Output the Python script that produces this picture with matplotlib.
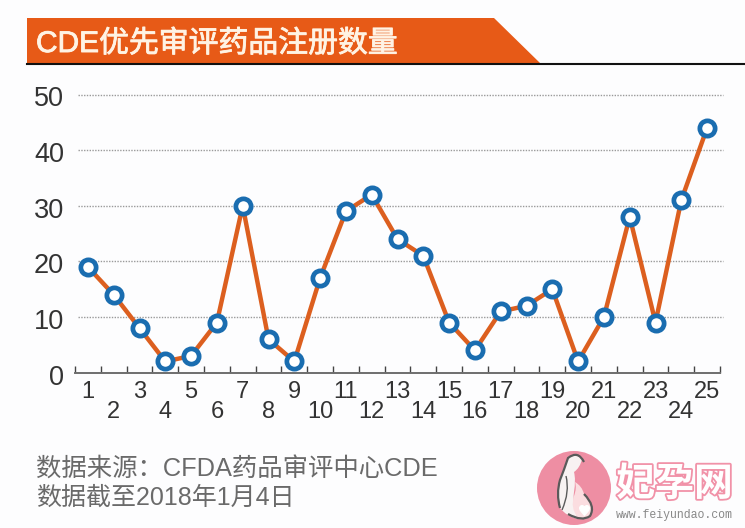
import matplotlib
matplotlib.use("Agg")
import matplotlib.pyplot as plt
import matplotlib.patheffects as pe
from matplotlib.patches import Polygon, Circle, PathPatch
from matplotlib.path import Path
from matplotlib.lines import Line2D
from matplotlib.transforms import ScaledTranslation

plt.rcParams['font.family'] = ['Liberation Sans', 'Noto Sans CJK SC', 'DejaVu Sans']

periods = list(range(1, 26))
counts = [19, 14, 8, 2, 3, 9, 30, 6, 2, 17, 29, 32, 24, 21, 9, 4, 11, 12, 15, 2, 10, 28, 9, 31, 44]
y_ticks = [0, 10, 20, 30, 40, 50]
title = 'CDE优先审评药品注册数量'
source_lines = ['数据来源：CFDA药品审评中心CDE', '数据截至2018年1月4日']

W, H = 745, 528
BG = '#fdfdfe'
fig = plt.figure(figsize=(W / 100, H / 100), dpi=100, facecolor=BG)

def fx(x): return x / W
def fy(y): return 1 - y / H

ov = fig.add_axes([0, 0, 1, 1], zorder=5)
ov.set_xlim(0, W); ov.set_ylim(H, 0); ov.axis('off'); ov.patch.set_alpha(0)

ax = fig.add_axes([fx(75), fy(372.6), 645 / W, (372.6 - 94.5) / H], zorder=2)
ax.patch.set_alpha(0)
ax.set_xlim(0.5, 25.5)
ax.set_ylim(0, 50)
for s in ['top', 'right', 'left']:
    ax.spines[s].set_visible(False)
ax.spines['bottom'].set_color('#6e6e6e')
ax.spines['bottom'].set_linewidth(1.4)

ax.set_yticks(y_ticks)
ax.tick_params(axis='y', length=0, pad=8, labelsize=19.5, labelcolor='#333333')
shift = ScaledTranslation(0, -2 / 100, fig.dpi_scale_trans)
for lab in ax.get_yticklabels():
    lab.set_transform(lab.get_transform() + shift)
for v in y_ticks[1:]:
    ax.axhline(v, xmin=3 / 645, xmax=648 / 645, color='#9a9a9a', lw=1.0, ls=(0, (1, 1)),
               zorder=1, clip_on=False)

ax.set_xticks([p - 0.5 for p in periods] + [25.5])
ax.set_xticklabels([])
ax.tick_params(axis='x', length=5.4, width=1.0, direction='in', color='#444444')

for p in periods:
    ypx = 392 if p % 2 else 412
    ov.text(75 + (p - 0.5) * 25.8, ypx, str(p), ha='center', va='center',
            fontsize=17, color='#333333')

ax.plot(periods, counts, color='#dc5f1f', lw=3.2, zorder=3, clip_on=False)
ax.plot(periods, counts, ls='none', marker='o', ms=11, mfc='#ffffff', mec='#1a6db0', mew=3.4,
        zorder=4, clip_on=False)

# header banner
ov.add_patch(Polygon([(27, 18), (494, 18), (540, 63), (27, 63)], closed=True, fc='#e75a17', ec='none'))
ov.add_line(Line2D([27, 745], [64, 64], color='#111111', lw=1.5))
ov.text(36, 44, title, ha='left', va='center', fontsize=21.5, color='#fff3e4',
        path_effects=[pe.withStroke(linewidth=0.6, foreground='#fff3e4')])

# source note
ov.text(36, 470, source_lines[0], ha='left', va='center', fontsize=18.3, color='#6a6a6a')
ov.text(36, 498, source_lines[1], ha='left', va='center', fontsize=18, color='#6a6a6a')

# watermark logo
def smooth(pts):
    codes = [Path.MOVETO] + [Path.CURVE3] * (len(pts) - 1)
    if len(pts) % 2 == 0:
        codes[-1] = Path.LINETO
    return Path(pts, codes)

ov.add_patch(Circle((574, 488), 37, fc='#ee8ea3', ec='none'))
back = [(582, 459), (572, 450), (566, 462), (563, 472), (560, 481), (557, 492), (560, 508),
        (566, 516), (578, 519), (572, 505), (574, 492), (576, 480), (574, 472), (580, 468), (582, 459)]
ov.add_patch(PathPatch(smooth(back), fc='#f8f2f2', ec='none'))
belly = [(575, 482), (582, 486), (584, 494), (594, 504), (592, 514), (586, 520), (578, 518),
         (570, 508), (574, 496), (577, 488), (575, 482)]
ov.add_patch(PathPatch(smooth(belly), fc='#fbdde0', ec='none'))
hair_line = [(584, 462), (578, 450), (568, 458), (564, 470), (560, 480), (556, 494), (560, 508)]
ov.add_patch(PathPatch(smooth(hair_line), fc='none', ec='#5a5a5a', lw=1.6))
belly_line = [(584, 494), (596, 506), (590, 516), (582, 522), (568, 514)]
ov.add_patch(PathPatch(smooth(belly_line), fc='none', ec='#5a5a5a', lw=1.6))
arm_line = [(566, 476), (570, 492), (562, 510)]
ov.add_patch(PathPatch(smooth(arm_line), fc='none', ec='#5a5a5a', lw=1.0))
ov.plot([584], [510], ls='none', marker='$♥$', ms=7, color='#ffffff')

ov.text(674.5, 484, '妃孕网', ha='center', va='center', fontsize=28, fontweight='bold', color='#ffffff',
        family=['Noto Sans CJK SC'],
        path_effects=[pe.withStroke(linewidth=2.6, foreground='#f192a8')])
ov.text(674.5, 515, 'www.feiyundao.com', ha='center', va='center', fontsize=8.3, color='#888888',
        family=['Liberation Mono'])

fig.savefig('out.png', dpi=100, facecolor=BG)
